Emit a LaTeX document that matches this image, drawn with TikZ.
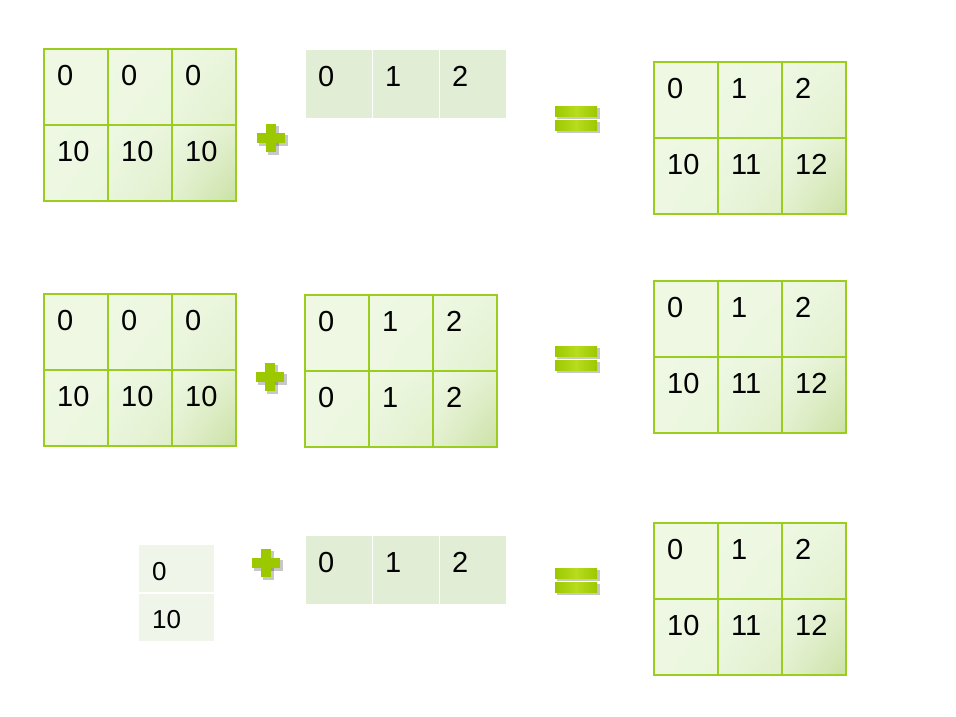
\documentclass[tikz,border=0pt]{standalone}
\usepackage{fontspec}
\setmainfont{Liberation Sans}
\usepackage{xcolor}
\usepackage{tikz}
\usetikzlibrary{shadings}

\definecolor{cellfill}{HTML}{EEF8E3}
\definecolor{celldark}{HTML}{CBE1A6}
\definecolor{gridline}{HTML}{9ACD1E}
\definecolor{flatfill}{HTML}{E2EDD5}
\definecolor{palefill}{HTML}{F0F5EA}
\definecolor{signgreen}{HTML}{9CC800}
\definecolor{signlight}{HTML}{B8DC1E}

\tikzset{
  num/.style={anchor=base west, inner sep=0pt, font=\fontsize{29}{30}\selectfont},
  smallnum/.style={anchor=base west, inner sep=0pt, font=\fontsize{26}{28}\selectfont},
  gridln/.style={draw=gridline, line width=1.3pt},
  signshadow/.style={fill=black, opacity=0.22},
}

% 2x3 grid: x, y, name, top values, bottom values
\newcommand{\bcgrid}[5]{%
  % cell shading, darker towards the lower right
  \foreach \r/\c/\k in {0/0/0, 0/1/8, 0/2/35, 1/0/8, 1/1/40, 1/2/100}
    \shade[upper left=cellfill, upper right=cellfill!\the\numexpr100-\k/3\relax!celldark,
           lower left=cellfill!\the\numexpr100-\k/3\relax!celldark,
           lower right=cellfill!\the\numexpr100-\k\relax!celldark]
      ({#1+64*\c},{#2+76*\r}) rectangle ++(64,76);
  \foreach \v [count=\i] in {#4}
    \node[num] (#3-1-\i) at ({#1+64*(\i-1)+13},{#2+36}) {\v};
  \foreach \v [count=\i] in {#5}
    \node[num] (#3-2-\i) at ({#1+64*(\i-1)+13},{#2+112}) {\v};
  \draw[gridln] (#1,#2) rectangle ++(192,152);
  \draw[gridln] (#1,#2+76) -- ++(192,0);
  \foreach \c in {1,2}
    \draw[gridln] (#1+64*\c,#2) -- ++(0,152);
}

% flat row of three cells: x, y, name, values
\newcommand{\flatrow}[4]{%
  \foreach \v [count=\i] in {#4} {
    \fill[flatfill] ({#1+67*(\i-1)},#2) rectangle ++(66,68);
    \node[num] (#3-\i) at ({#1+67*(\i-1)+12},{#2+36}) {\v};
  }
}

\newcommand{\plussign}[2]{%
  \fill[signshadow] (#1-12,#2-3) rectangle (#1+17,#2+8);
  \fill[signshadow] (#1-3,#2-12) rectangle (#1+8,#2+17);
  \fill[signgreen] (#1-14,#2-5) rectangle (#1+14,#2+5);
  \fill[signgreen] (#1-5,#2-14) rectangle (#1+5,#2+14);
}

\newcommand{\eqsign}[2]{%
  \foreach \dy in {-12,2} {
    \fill[signshadow] (#1-19,#2+\dy+2) rectangle (#1+24,#2+\dy+13);
    \shade[left color=signgreen, right color=signgreen, middle color=signlight]
      (#1-21,#2+\dy) rectangle (#1+21,#2+\dy+10);
  }
}

\begin{document}
\begin{tikzpicture}[x=1pt, y=-1pt]
  \useasboundingbox (0,0) rectangle (956,716);

  % first row
  \bcgrid{44}{49}{aa}{0,0,0}{10,10,10}
  \plussign{271}{138}
  \flatrow{306}{50}{ba}{0,1,2}
  \eqsign{576}{118}
  \bcgrid{654}{62}{ca}{0,1,2}{10,11,12}

  % second row
  \bcgrid{44}{294}{ab}{0,0,0}{10,10,10}
  \plussign{270}{377}
  \bcgrid{305}{295}{bb}{0,1,2}{0,1,2}
  \eqsign{576}{358}
  \bcgrid{654}{281}{cb}{0,1,2}{10,11,12}

  % third row
  \fill[palefill] (139,545) rectangle (214,592);
  \fill[palefill] (139,594) rectangle (214,641);
  \node[smallnum] (col-1) at (152,580) {0};
  \node[smallnum] (col-2) at (152,628) {10};
  \plussign{266}{563}
  \flatrow{306}{536}{bc}{0,1,2}
  \eqsign{576}{580}
  \bcgrid{654}{523}{cc}{0,1,2}{10,11,12}
\end{tikzpicture}
\end{document}
